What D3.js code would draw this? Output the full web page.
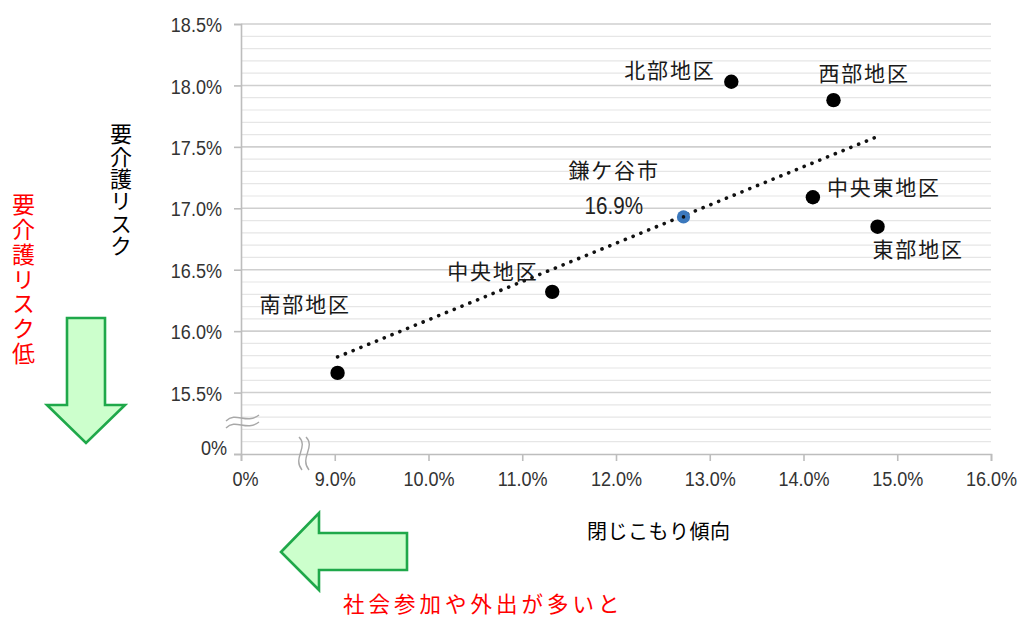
<!DOCTYPE html>
<html><head><meta charset="utf-8">
<script src="https://cdn.jsdelivr.net/npm/d3@7"></script>
<style>
body{margin:0;background:#fff;}
svg{display:block;}
</style></head>
<body>
<svg id="chart" width="1019" height="619"></svg>
<script>
// ---- data ----
const names = ["南部地区","中央地区","鎌ケ谷市","北部地区","西部地区","中央東地区","東部地区"];
const xValues = [9.03, 11.32, 12.72, 13.23, 14.32, 14.10, 14.79];   // 閉じこもり傾向 (%)
const yValues = [15.66, 16.32, 16.93, 18.03, 17.88, 17.09, 16.85];  // 要介護リスク (%)
const isCity = [false, false, true, false, false, false, false];
const trendX = [9.03, 14.76];
const trendY = [15.79, 17.575];
const xTickValues = [8, 9, 10, 11, 12, 13, 14, 15, 16];
const xTickLabels = ["0%","9.0%","10.0%","11.0%","12.0%","13.0%","14.0%","15.0%","16.0%"];
const yTickValues = [15.0, 15.5, 16.0, 16.5, 17.0, 17.5, 18.0, 18.5];
const yTickLabels = ["0%","15.5%","16.0%","16.5%","17.0%","17.5%","18.0%","18.5%"];
const cityValueLabel = "16.9%";
const yTitle = "要介護リスク";
const xTitle = "閉じこもり傾向";
const yNote = "要介護リスク低";
const xNote = "社会参加や外出が多いと";

(function () {
// ---- layout ----
const svg = d3.select("#chart");
const W = 1019, H = 619;
svg.append("rect").attr("width", W).attr("height", H).attr("fill", "#fff");
const pL = 241, pR = 991, pT = 24, pB = 454;
const x = d3.scaleLinear().domain([8, 16]).range([pL, pR]);
const y = d3.scaleLinear().domain([15, 18.5]).range([pB, pT]);
const numFont = "'Liberation Sans',Arial,sans-serif";
const jpFont = "'Noto Sans CJK JP','Noto Sans CJK SC',sans-serif";
const sx = 0.86; // horizontal condensing of numeric labels

// minor grid (0.1%)
const minor = d3.range(151, 185).map(v => v / 10);
svg.append("g").selectAll("line").data(minor.filter(v => Math.round(v * 10) % 5 !== 0)).join("line")
  .attr("x1", pL).attr("x2", pR)
  .attr("y1", d => y(d)).attr("y2", d => y(d))
  .attr("stroke", "#e6e6e6").attr("stroke-width", 1.2);
// major grid
svg.append("g").selectAll("line").data(yTickValues.slice(1)).join("line")
  .attr("x1", pL).attr("x2", pR)
  .attr("y1", d => y(d)).attr("y2", d => y(d))
  .attr("stroke", "#cfcfcf").attr("stroke-width", 1.6);

// axes
const yAxis = svg.append("g").attr("transform", `translate(${pL},0)`)
  .call(d3.axisLeft(y).tickValues(yTickValues).tickFormat((d, i) => yTickLabels[i]).tickSize(7).tickPadding(12));
const xAxis = svg.append("g").attr("transform", `translate(0,${pB})`)
  .call(d3.axisBottom(x).tickValues(xTickValues).tickFormat((d, i) => xTickLabels[i]).tickSize(7).tickPadding(10));
[yAxis, xAxis].forEach(g => {
  g.select(".domain").attr("stroke", "#bdbdbd").attr("stroke-width", 1.6);
  g.selectAll(".tick line").attr("stroke", "#bdbdbd").attr("stroke-width", 1.6);
  g.selectAll(".tick text").attr("fill", "#333").style("font-family", numFont).style("font-size", "21px")
    .attr("transform", `scale(${sx},1)`);
});
yAxis.selectAll(".tick text").attr("x", -19 / sx).attr("dy", "0.36em");
yAxis.selectAll(".tick").filter(d => d === 15).select("text").attr("x", -14 / sx).attr("y", -7);
xAxis.selectAll(".tick").filter(d => d === 8).select("text").attr("x", 4 / sx);

// axis break marks
const brk = svg.append("g").attr("fill", "none").attr("stroke", "#a8a8a8").attr("stroke-width", 1.4);
[0, 7].forEach(o => {
  brk.append("path").attr("d", `M226,${421 + o} C236,${411 + o} 246,${425 + o} 259,${415 + o}`);
});
[0, 7].forEach(o => {
  brk.append("path").attr("d", `M${299 + o},437 C${309 + o},447 ${292 + o},458 ${302 + o},470`);
});

// trend line
svg.append("line")
  .attr("x1", x(trendX[0])).attr("y1", y(trendY[0]))
  .attr("x2", x(trendX[1])).attr("y2", y(trendY[1]))
  .attr("stroke", "#111").attr("stroke-width", 3.6)
  .attr("stroke-linecap", "round").attr("stroke-dasharray", "0.1 8.3");

// points
const pts = names.map((n, i) => ({ n, x: xValues[i], y: yValues[i], city: isCity[i] }));
svg.append("g").selectAll("circle").data(pts).join("circle")
  .attr("cx", d => x(d.x)).attr("cy", d => y(d.y))
  .attr("r", d => d.city ? 6.6 : 7.2)
  .attr("fill", d => d.city ? "#3b78bd" : "#000");
svg.append("circle").attr("cx", x(xValues[2])).attr("cy", y(yValues[2])).attr("r", 1.8).attr("fill", "#111");

// point labels
const labelOffset = [[-78, -68], [-105, -20], [-115, -46], [-107, -11], [-15, -27], [14, -10], [-5, 23]];
svg.append("g").selectAll("text").data(pts).join("text")
  .attr("x", (d, i) => x(d.x) + labelOffset[i][0])
  .attr("y", (d, i) => y(d.y) + labelOffset[i][1])
  .attr("dy", "0.36em")
  .style("font-family", jpFont).style("font-size", "21px").style("letter-spacing", "1.8px")
  .attr("fill", "#1a1a1a")
  .text(d => d.n);
svg.append("text")
  .attr("transform", `translate(${x(xValues[2]) - 99},${y(yValues[2]) - 12}) scale(${sx},1)`)
  .attr("dy", "0.36em")
  .style("font-family", numFont).style("font-size", "24px").attr("fill", "#222")
  .text(cityValueLabel);

// titles (vertical)
svg.append("text")
  .attr("x", 121).attr("y", 123)
  .style("writing-mode", "vertical-rl").style("text-orientation", "upright")
  .style("font-family", jpFont).style("font-size", "22px").style("letter-spacing", "0.3px").attr("fill", "#000")
  .text(yTitle);
svg.append("text")
  .attr("x", 23.5).attr("y", 193)
  .style("writing-mode", "vertical-rl").style("text-orientation", "upright")
  .style("font-family", jpFont).style("font-size", "23px").style("letter-spacing", "1.8px").attr("fill", "#ff0000")
  .text(yNote);
svg.append("text").attr("x", 587).attr("y", 532).attr("dy", "0.36em")
  .style("font-family", jpFont).style("font-size", "20px").style("letter-spacing", "0.5px").attr("fill", "#000")
  .text(xTitle);
svg.append("text").attr("x", 343).attr("y", 604).attr("dy", "0.36em")
  .style("font-family", jpFont).style("font-size", "21.5px").style("letter-spacing", "4px").attr("fill", "#ff0000")
  .text(xNote);

// green arrows
const arrowStyle = g => g.attr("fill", "#ccffcc").attr("stroke", "#1fa84a").attr("stroke-width", 2.6).attr("stroke-linejoin", "miter");
svg.append("path").attr("d", "M67,318 L105,318 L105,405 L125,405 L86,443 L47,405 L67,405 Z").call(arrowStyle);
svg.append("path").attr("d", "M281,552 L319,513 L319,533 L407,533 L407,570 L319,570 L319,590 Z").call(arrowStyle);
})();
</script>
</body></html>
